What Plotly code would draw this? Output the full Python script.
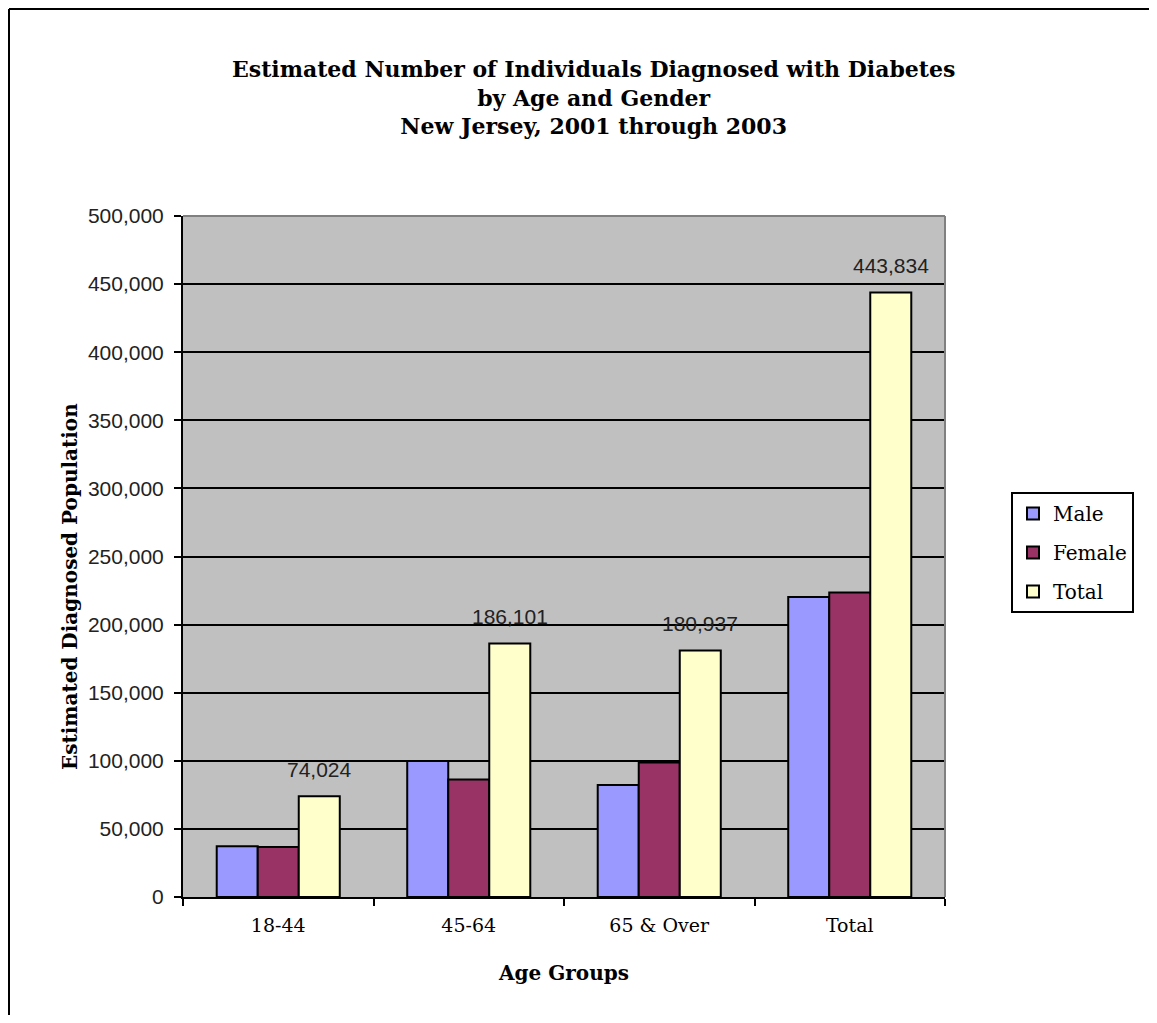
import plotly.graph_objects as go

categories = ["18-44", "45-64", "65 & Over", "Total"]
male = [37200, 99900, 82200, 220300]
female = [36800, 86200, 98700, 223500]
total = [74024, 186101, 180937, 443834]
series_names = ["Male", "Female", "Total"]
series_colors = ["#9999FF", "#993366", "#FFFFCC"]
y_ticks = [0, 50000, 100000, 150000, 200000, 250000, 300000, 350000, 400000, 450000, 500000]

OFF = 8  # page body margin
W, H = 1157 - 2 * OFF, 1023 - 2 * OFF
L, R, T, B = 183 - OFF, 945 - OFF, 216 - OFF, 897 - OFF
pw, ph = R - L, B - T

def px(x):
    return (x - OFF - L) / pw

def py(y):
    return (B - (y - OFF)) / ph

serif = "DejaVu Serif, serif"
sans = "Liberation Sans, Arial"

fig = go.Figure()
for name, vals, col in zip(series_names, [male, female, total], series_colors):
    fig.add_trace(go.Bar(
        x=categories, y=vals, name=name, legendgroup=name,
        marker=dict(color=col, line=dict(color="black", width=2)),
        hoverinfo="x+y+name",
    ))

# data labels on Total series
for c, v in zip(categories, total):
    fig.add_annotation(x=c, y=v, xref="x", yref="y", text=f"{v:,}",
                       showarrow=False, xshift=41, yshift=27, yanchor="middle",
                       font=dict(family=sans, size=21, color="#222"))

# title
fig.add_annotation(xref="paper", yref="paper", x=px(593), y=py(98),
                   text="<b>Estimated Number of Individuals Diagnosed with Diabetes<br>by Age and Gender<br>New Jersey, 2001 through 2003</b>",
                   showarrow=False, xanchor="center", yanchor="middle",
                   font=dict(family=serif, size=22, color="black"))
# y title
fig.add_annotation(xref="paper", yref="paper", x=px(70), y=py(587),
                   text="<b>Estimated Diagnosed Population</b>", textangle=-90,
                   showarrow=False, xanchor="center", yanchor="middle",
                   font=dict(family=serif, size=20, color="black"))
# x title
fig.add_annotation(xref="paper", yref="paper", x=px(563), y=py(973),
                   text="<b>Age Groups</b>",
                   showarrow=False, xanchor="center", yanchor="middle",
                   font=dict(family=serif, size=20, color="black"))

# outer border (top and left)
fig.add_shape(type="line", xref="paper", yref="paper", x0=px(OFF + 1), x1=px(1170), y0=py(OFF + 1), y1=py(OFF + 1),
              line=dict(color="black", width=2))
fig.add_shape(type="line", xref="paper", yref="paper", x0=px(OFF + 1), x1=px(OFF + 1), y0=py(OFF + 1), y1=py(1040),
              line=dict(color="black", width=2))
# plot area gray top/right border
fig.add_shape(type="line", xref="paper", yref="paper", x0=0, x1=1, y0=1, y1=1,
              line=dict(color="#808080", width=2))
fig.add_shape(type="line", xref="paper", yref="paper", x0=1, x1=1, y0=0, y1=1,
              line=dict(color="#808080", width=2))

fig.update_layout(
    width=W, height=H,
    margin=dict(l=L, r=W - R, t=T, b=H - B, autoexpand=False),
    paper_bgcolor="white", plot_bgcolor="#C0C0C0",
    barmode="group", bargap=0.354, bargroupgap=0,
    showlegend=True,
    legend=dict(x=px(1011), y=py(492), xanchor="left", yanchor="top",
                bordercolor="black", borderwidth=2, bgcolor="white",
                font=dict(family=serif, size=20, color="black"),
                itemwidth=30, tracegroupgap=10),
)
fig.update_xaxes(
    showline=True, linecolor="black", linewidth=2,
    ticks="outside", ticklen=7, tickwidth=2, tickcolor="black", tickson="boundaries",
    tickfont=dict(family=serif, size=19, color="black"), ticklabelstandoff=10,
    showgrid=False,
)
fig.update_yaxes(
    range=[0, 500000], tickvals=y_ticks, tickformat=",d",
    showline=True, linecolor="black", linewidth=2,
    ticks="outside", ticklen=7, tickwidth=2, tickcolor="black", ticklabelstandoff=6,
    tickfont=dict(family=sans, size=21, color="#222"),
    showgrid=True, gridcolor="black", gridwidth=2, zeroline=False,
)
fig.write_html("out.html")
